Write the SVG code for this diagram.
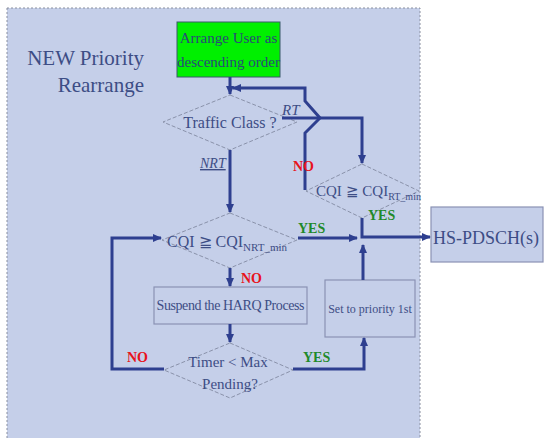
<svg xmlns="http://www.w3.org/2000/svg" width="544" height="438" viewBox="0 0 544 438">
<defs>
<marker id="ah" markerWidth="9" markerHeight="8" refX="8" refY="4" orient="auto" markerUnits="userSpaceOnUse">
<path d="M0,0 L9,4 L0,8 Z" fill="#2e3f8f"/>
</marker>
</defs>
<style>
text{font-family:'Liberation Serif','DejaVu Serif','Noto Serif',serif}
.lbl{fill:#3d4d85}
.dia{fill:#c5cfe9;stroke:#8a92aa;stroke-width:1;stroke-dasharray:4 2}
.box{fill:#c5cfe9;stroke:#8a92b4;stroke-width:1.2}
.con{fill:none;stroke:#2e3f8f;stroke-width:3}
.arr{marker-end:url(#ah)}
.no{font-weight:bold;fill:#e8141c;font-size:14px}
.yes{font-weight:bold;fill:#1f8a2a;font-size:14px}
</style>
<rect width="544" height="438" fill="#ffffff"/>
<rect id="panel" x="7" y="8" width="413" height="440" fill="#c5cfe9" stroke="#8a90a0" stroke-width="1" stroke-dasharray="2 2"/>
<g id="title">
<text class="lbl" x="144" y="65" font-size="21" text-anchor="end">NEW Priority</text>
<text class="lbl" x="144" y="92" font-size="21" text-anchor="end">Rearrange</text>
</g>
<g id="arrange">
<rect x="177" y="22" width="103" height="55" fill="#00f000" stroke="#3a5a6a" stroke-width="1"/>
<text class="lbl" x="228.500" y="43" font-size="15" text-anchor="middle" style="fill:#2a4a78">Arrange User as</text>
<text class="lbl" x="228.500" y="67" font-size="15" text-anchor="middle" style="fill:#2a4a78">descending order</text>
</g>
<g id="traffic">
<polygon class="dia" points="230,95 297,122 230,150 163,122"/>
<text class="lbl" x="230" y="128" font-size="16" text-anchor="middle">Traffic Class ?</text>
</g>
<g id="cqi_rt">
<polygon class="dia" points="362,164 419,191 362,218 306,191"/>
<text class="lbl" x="316" y="196" font-size="15">CQI ≧ CQI<tspan font-size="10" dy="4">RT_min</tspan></text>
</g>
<g id="cqi_nrt">
<polygon class="dia" points="230,213 297,240 230,268 162,240"/>
<text class="lbl" x="167" y="247" font-size="16">CQI ≧ CQI<tspan font-size="11" dy="4">NRT_min</tspan></text>
</g>
<g id="suspend">
<rect class="box" x="154" y="287" width="153" height="37"/>
<text class="lbl" x="230.500" y="310" font-size="14" text-anchor="middle" textLength="148">Suspend the HARQ Process</text>
</g>
<g id="timer">
<polygon class="dia" points="230,343 293,370 230,398 164,370"/>
<text class="lbl" x="228" y="367" font-size="15" text-anchor="middle">Timer &lt; Max</text>
<text class="lbl" x="230" y="389" font-size="15" text-anchor="middle">Pending?</text>
</g>
<g id="setprio">
<rect class="box" x="325" y="280" width="90" height="57"/>
<text class="lbl" x="370" y="313" font-size="12" text-anchor="middle">Set to priority 1st</text>
</g>
<g id="hspdsch">
<rect class="box" x="431" y="207" width="112" height="55"/>
<text class="lbl" x="433" y="244" font-size="18">HS-PDSCH(s)</text>
</g>
<g id="connectors">
<path class="con arr" d="M230,77 V94"/>
<path class="con arr" d="M230,150 V212"/>
<path class="con arr" d="M282,118 H362 V163"/>
<path class="con arr" d="M305,190 V133 L320,118 L305,101 V88 H233"/>
<path class="con arr" d="M230,268 V286"/>
<path class="con arr" d="M230,324 V342"/>
<path class="con arr" d="M164,369 H112 V238 H161"/>
<path class="con arr" d="M293,369 H364 V338"/>
<path class="con arr" d="M363,280 V245"/>
<path class="con arr" d="M298,238 H357"/>
<path class="con arr" d="M362,218 V237 H430"/>
</g>
<g id="labels">
<text class="lbl" x="200" y="168" font-size="14" font-style="italic" text-decoration="underline">NRT</text>
<text class="lbl" x="282" y="115" font-size="15" font-style="italic">RT</text>
<text class="no" x="293" y="171">NO</text>
<text class="yes" x="368" y="220">YES</text>
<text class="yes" x="298" y="233">YES</text>
<text class="no" x="241" y="283">NO</text>
<text class="no" x="127" y="362">NO</text>
<text class="yes" x="303" y="362">YES</text>
</g>
</svg>
